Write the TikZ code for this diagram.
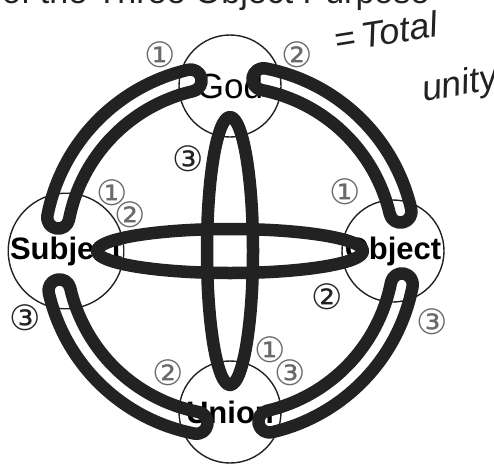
\documentclass[tikz,border=0pt]{standalone}
\usepackage{fontspec}
\setmainfont{Liberation Sans}
\newfontfamily\circfont{DejaVu Sans}
\usepackage{tikz}
\usetikzlibrary{calc}
\definecolor{inkdark}{HTML}{222222}
\definecolor{numgray}{HTML}{6A6A6A}

\begin{document}
\begin{tikzpicture}[x=1pt,y=1pt,
		pole/.style={circle,draw=inkdark,line width=1.4pt,minimum size=102pt,inner sep=0pt,
				font=\bfseries\fontsize{31}{31}\selectfont},
		band/.style={draw=inkdark,line width=12.5pt,line join=round},
		num/.style={font=\circfont\fontsize{35}{35}\selectfont,text=numgray,inner sep=0pt},
		numd/.style={num,text=inkdark},
		hand/.style={font=\itshape\fontsize{36}{36}\selectfont,text=inkdark,inner sep=0pt}
		]
		\path[use as bounding box,clip] (0,0) rectangle (494,467);
		\coordinate (c) at (230,216);
		% title, cut by the top edge
		\node[anchor=south west,font=\fontsize{34}{34}\selectfont,text=inkdark,inner sep=0pt] (title) at (2,456) {of the Three Object Purpose};
		% the four poles
		\node[pole,font=\fontsize{35}{35}\selectfont] (god) at ($(c)+(90:165)$) {God};
		\node[pole] (subj) at ($(c)+(180:164)$) {Subject};
		\node[pole] (obj) at ($(c)+(0:163)$) {Object};
		\node[pole] (uni) at ($(c)+(270:161)$) {Union};
		% loops between neighbouring poles
		\foreach \a in {0,90,180,270}
		\draw[band] ($(c)+({\a+13}:186)$) arc[start angle=\a+13,delta angle=66,radius=186]
		arc[start angle=\a+79,delta angle=180,radius=11]
		arc[start angle=\a+79,delta angle=-66,radius=164]
		arc[start angle=\a+193,delta angle=180,radius=11] -- cycle;
		% loops across the middle
		\draw[band] (c) ellipse[x radius=23,y radius=134];
		\draw[band] (c) ellipse[x radius=133,y radius=22];
		% numbers
		\node[num] (g1) at (160,412) {①};
		\node[num] (g2) at (297,412) {②};
		\node[numd] (g3) at (188,308) {③};
		\node[num] (s1) at (112,274) {①};
		\node[num] (s2) at (130,252) {②};
		\node[numd] (s3) at (25,149) {③};
		\node[num] (o1) at (345,275) {①};
		\node[numd] (o2) at (327,170) {②};
		\node[num] (o3) at (432,145) {③};
		\node[num] (u2) at (168,94) {②};
		\node[num] (u1) at (270,117) {①};
		\node[num] (u3) at (290,94) {③};
		% note by hand
		\node[hand,rotate=9] (tot) at (386,435) {=\,Total};
		\node[hand,rotate=10] (unity) at (460,381) {unity};
	\end{tikzpicture}
\end{document}
